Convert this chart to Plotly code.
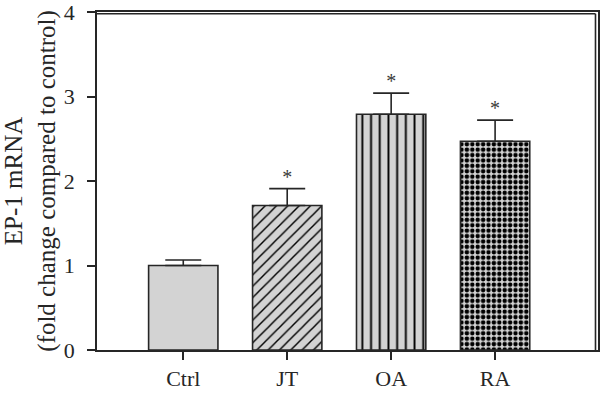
import plotly.graph_objects as go

categories = ["Ctrl", "JT", "OA", "RA"]
values = [1.0, 1.71, 2.79, 2.47]
errors = [0.065, 0.20, 0.25, 0.25]
stars = ["", "*", "*", "*"]
y_ticks = [0, 1, 2, 3, 4]

patterns = ["", "/", "|", "."]
pattern_sizes = [8, 8, 8.7, 5.4]
pattern_solidity = [0.2, 0.18, 0.22, 0.54]

x_idx = list(range(len(categories)))
FONT = "Liberation Serif"
DARK = "#262626"
GRAY = "#d3d3d3"

fig = go.Figure()
fig.add_trace(go.Bar(
    x=x_idx, y=values, width=0.667,
    marker=dict(
        color=GRAY,
        line=dict(color=DARK, width=1.6),
        pattern=dict(shape=patterns, size=pattern_sizes, solidity=pattern_solidity,
                     fgcolor="#000000", bgcolor=GRAY, fillmode="overlay", fgopacity=1),
    ),
    error_y=dict(type="data", array=errors, symmetric=False, arrayminus=[0]*4,
                 color=DARK, thickness=1.6, width=18),
    showlegend=False, hoverinfo="skip",
))
fig.add_trace(go.Scatter(
    x=x_idx, y=[v + e for v, e in zip(values, errors)],
    mode="text", text=stars, textposition="top center",
    textfont=dict(family=FONT, size=20, color="#3a3a3a"),
    showlegend=False, hoverinfo="skip", cliponaxis=False,
))

fig.update_layout(
    width=600, height=396,
    margin=dict(l=97, r=2, t=12, b=46),
    paper_bgcolor="white", plot_bgcolor="white",
    font=dict(family=FONT, size=21, color=DARK),
    shapes=[dict(type="line", xref="paper", yref="paper", x0=0, x1=0.995, y0=0.995, y1=0.995,
                 line=dict(color=DARK, width=1.6), layer="above"),
            dict(type="line", xref="paper", yref="paper", x0=0.995, x1=0.995, y0=0, y1=0.995,
                 line=dict(color=DARK, width=1.6), layer="above")],
)
fig.update_xaxes(
    range=[-0.83, 3.99], tickvals=x_idx, ticktext=categories,
    ticks="outside", ticklen=8, tickwidth=1.5, tickcolor=DARK,
    showline=True, linecolor=DARK, linewidth=1.5, mirror=True,
    showgrid=False, zeroline=False, tickfont=dict(size=22),
    automargin=False,
)
fig.update_yaxes(
    range=[0, 4], tickvals=y_ticks, ticktext=[str(t) for t in y_ticks],
    ticks="outside", ticklen=8, tickwidth=1.5, tickcolor=DARK,
    showline=True, linecolor=DARK, linewidth=1.5, mirror=True,
    showgrid=False, zeroline=False, tickfont=dict(size=22),
    ticklabelstandoff=8, automargin=False, ticklabeloverflow="allow",
    title=dict(text="EP-1 mRNA<br>(fold change compared to control)",
               font=dict(size=25), standoff=12),
)
fig.write_html("out.html", config={"displayModeBar": False})

with open("out.html", "r", encoding="utf-8") as f:
    html = f.read()
html = html.replace("<head>", "<head><style>html,body{margin:0;padding:0;overflow:hidden;}</style>", 1)
with open("out.html", "w", encoding="utf-8") as f:
    f.write(html)
